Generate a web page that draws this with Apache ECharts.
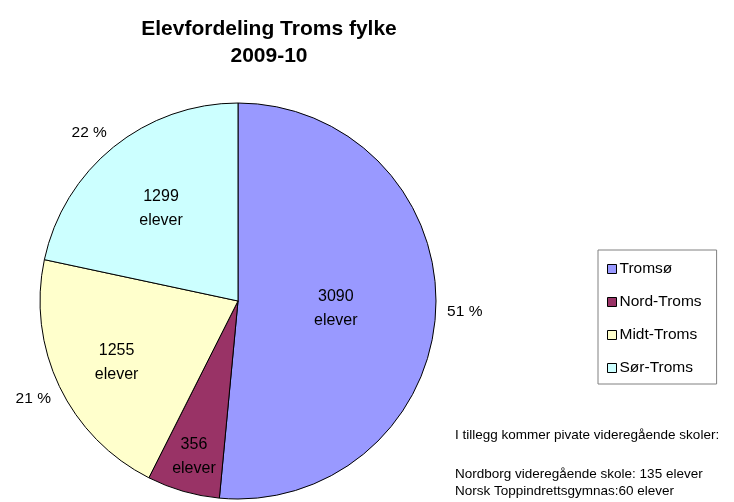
<!DOCTYPE html>
<html>
<head>
<meta charset="utf-8">
<script src="https://cdn.jsdelivr.net/npm/echarts@6/dist/echarts.min.js"></script>
<style>
  html, body { margin: 0; padding: 0; background: #fff; }
  #chart { width: 734px; height: 502px; }
</style>
</head>
<body>
<div id="chart"></div>
<script>
// Elevfordeling Troms fylke 2009-10
const regions = ['Tromsø', 'Nord-Troms', 'Midt-Troms', 'Sør-Troms']
const students = [3090, 356, 1255, 1299]
const colors = ['#9999FF', '#993366', '#FFFFCC', '#CCFFFF']
// how far from the centre each inner label sits (share of radius), Excel "best fit"
const innerLabelPos = [0.48, 0.78, 0.66, 0.6]
const noteLines = [
  'I tillegg kommer pivate videregående skoler:',
  'Nordborg videregående skole: 135 elever',
  'Norsk Toppindrettsgymnas:60 elever'
]
const noteTops = [428, 467, 484]

const font = 'Arial, "Liberation Sans", sans-serif'
const cx = 238, cy = 301, r = 198

const chart = echarts.init(document.getElementById('chart'))
const pieData = regions.map((name, i) => ({ name, value: students[i], itemStyle: { color: colors[i] } }))

chart.setOption({
  animation: false,
  title: {
    text: 'Elevfordeling Troms fylke\n2009-10',
    left: 264,
    top: 11,
    textAlign: 'center',
    textStyle: { fontFamily: font, fontSize: 21, fontWeight: 'bold', color: '#000', lineHeight: 27 }
  },
  legend: {
    orient: 'vertical',
    left: 598,
    top: 250,
    padding: [11, 15, 8, 9],
    itemGap: 17,
    itemWidth: 9,
    itemHeight: 9,
    icon: 'rect',
    borderColor: '#808080',
    borderWidth: 1,
    itemStyle: { borderColor: '#000', borderWidth: 1 },
    textStyle: { fontFamily: font, fontSize: 15.5, color: '#000', padding: [0, 0, 0, -2] },
    data: regions
  },
  graphic: noteLines.map((t, i) => ({
    type: 'text',
    left: 455,
    top: noteTops[i],
    style: { text: t, font: '13.5px ' + font, fill: '#000' }
  })),
  series: [
    {
      type: 'pie',
      name: 'elever',
      center: [cx, cy],
      radius: [0, r],
      startAngle: 90,
      clockwise: true,
      percentPrecision: 0,
      avoidLabelOverlap: false,
      itemStyle: { borderColor: '#000', borderWidth: 1 },
      emphasis: { disabled: true },
      label: {
        position: 'inside',
        formatter: '{c}\nelever',
        fontFamily: font,
        fontSize: 16,
        lineHeight: 24,
        color: '#000'
      },
      labelLayout: function (p) {
        const k = innerLabelPos[p.dataIndex] / 0.5 - 1
        const lx = p.labelRect.x + p.labelRect.width / 2
        const ly = p.labelRect.y + p.labelRect.height / 2
        return { dx: (lx - cx) * k, dy: (ly - cy) * k + 3 }
      },
      data: pieData
    },
    {
      // ring of outer percentage labels
      type: 'pie',
      name: 'prosent',
      center: [cx, cy],
      radius: [212, 236],
      startAngle: 90,
      clockwise: true,
      percentPrecision: 0,
      silent: true,
      avoidLabelOverlap: false,
      itemStyle: { color: 'transparent', borderWidth: 0 },
      label: {
        position: 'inside',
        formatter: '{d} %',
        fontFamily: font,
        fontSize: 15.5,
        color: '#000'
      },
      labelLayout: function (p) {
        // Excel pushes the upper-left label a little further out
        return p.dataIndex === 3 ? { dx: -6, dy: 8 } : {}
      },
      data: regions.map((name, i) => ({ name, value: students[i] }))
    }
  ]
})
</script>
</body>
</html>
